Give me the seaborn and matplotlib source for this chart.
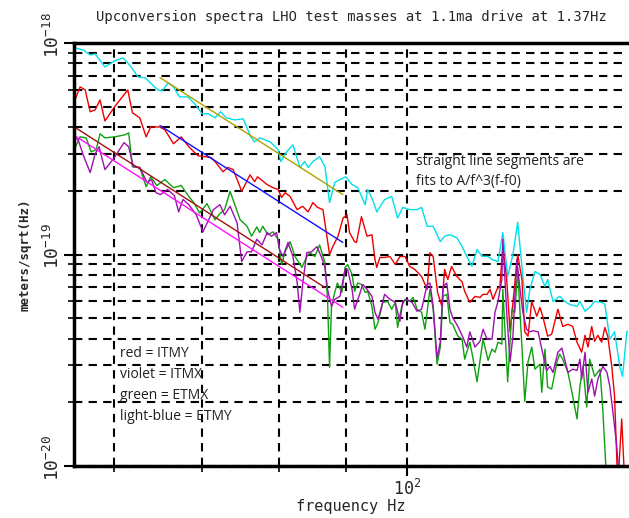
import pandas as pd
import seaborn as sns
import matplotlib
matplotlib.use("Agg")
import matplotlib.pyplot as plt
from matplotlib.ticker import FixedLocator, LogLocator, NullFormatter
from matplotlib.transforms import ScaledTranslation

# amplitude spectra, in units of 1e-19 m/sqrt(Hz)
freq_etmy = [56.1, 56.9, 57.6, 58.1, 59.1, 60.1, 61.0, 61.7, 62.6, 63.4, 64.8, 65.3, 66.0, 66.6, 67.3, 68.3,
             69.1, 70.0, 70.7, 71.6, 72.3, 73.0, 74.1, 75.2, 76.2, 76.7, 77.4, 78.8, 79.9, 80.3, 81.0, 82.0,
             83.0, 83.7, 84.2, 84.9, 85.9, 86.7, 87.4, 88.2, 89.0, 89.9, 90.9, 91.8, 93.0, 93.4, 94.2, 94.9,
             96.2, 97.4, 98.4, 99.3, 100.5, 101.8, 102.6, 103.6, 104.7, 106.0, 106.8, 107.8, 109.1, 110.1,
             111.0, 112.0, 113.0, 114.0, 115.2, 116.0, 117.2, 118.2, 119.2, 120.3, 121.3, 122.4, 123.2, 123.9,
             125.0, 126.1, 127.2, 127.8, 129.0, 130.5, 131.7, 132.8, 134.5, 135.2, 136.4, 137.5, 138.7, 140.4,
             141.2, 142.4, 143.6, 144.9, 145.6, 146.7, 147.2]
amp_etmy = [9.48, 9.27, 8.78, 8.88, 7.70, 8.23, 8.50, 7.87, 6.92, 6.84,
            6.00, 5.94, 6.48, 6.20, 5.56, 5.56, 5.16, 4.63, 4.63, 4.43,
            4.73, 4.43, 4.33, 4.38, 3.60, 3.41, 3.56, 3.41, 3.13, 2.75,
            3.03, 3.30, 2.58, 2.75, 2.58, 2.75, 2.90, 2.60, 1.76, 2.19,
            2.26, 2.33, 2.14, 2.07, 1.72, 2.03, 1.82, 1.59, 1.82, 1.88,
            1.49, 1.67, 1.63, 1.63, 1.67, 1.36, 1.36, 1.15, 1.22, 1.24,
            1.20, 1.09, 0.98, 0.88, 1.056, 0.98, 0.98, 0.947, 0.926, 1.27,
            0.787, 1.00, 1.42, 0.787, 0.533, 0.684, 0.831, 0.805, 0.706, 0.762,
            0.600, 0.634, 0.600, 0.581, 0.568, 0.600, 0.539, 0.562, 0.600, 0.594,
            0.581, 0.398, 0.431, 0.296, 0.265, 0.431, 0.436]

freq_itmy = [56.1, 56.6, 57.1, 57.6, 58.1, 58.6, 59.1, 60.1, 61.5, 62.0,
             62.8, 63.5, 64.0, 65.0, 65.6, 66.6, 67.5, 68.4, 69.5, 70.4,
             71.1, 71.6, 72.6, 73.2, 73.9, 75.0, 76.1, 76.7, 77.1, 78.4,
             79.2, 79.9, 80.4, 80.9, 81.6, 82.6, 83.4, 84.2, 84.9, 85.6,
             86.4, 87.0, 87.4, 87.9, 88.7, 89.5, 90.1, 90.5, 91.3, 91.6,
             92.4, 93.3, 94.1, 94.6, 94.9, 95.4, 96.2, 97.1, 98.0, 98.8,
             99.7, 100.5, 101.4, 102.6, 103.6, 104.1, 104.7, 105.5, 106.3, 106.8,
             107.4, 108.1, 109.1, 110.1, 110.6, 111.6, 112.6, 113.6, 114.2, 115.0,
             115.6, 116.2, 117.0, 117.6, 118.2, 119.0, 119.7, 120.3, 121.3, 122.2,
             122.8, 123.5, 124.3, 125.4, 126.1, 126.7, 127.8, 128.7, 130.1, 131.2,
             132.4, 133.5, 134.5, 135.6, 136.4, 137.1, 138.0, 138.7, 139.5, 140.4,
             141.2, 141.9, 142.9, 143.6, 144.4, 145.4, 146.2, 147.0]
amp_itmy = [5.38, 6.20, 6.00, 4.73, 4.83, 5.38, 4.28, 4.99, 6.00, 4.68,
            4.43, 3.60, 4.01, 4.01, 3.89, 3.34, 3.60, 3.23, 2.93, 2.90,
            2.87, 2.75, 2.46, 2.58, 2.52, 1.99, 2.38, 2.21, 2.33, 2.14,
            2.07, 2.03, 1.86, 1.96, 1.88, 1.63, 1.69, 1.59, 1.76, 1.67,
            1.63, 1.22, 1.00, 1.09, 1.22, 1.49, 1.54, 1.27, 1.15, 1.14,
            1.51, 1.22, 1.24, 0.947, 0.869, 0.968, 0.968, 0.978, 0.897, 0.978,
            0.978, 0.878, 0.850, 0.787, 0.684, 1.02, 0.978, 0.662, 0.568, 0.850,
            0.762, 0.878, 0.787, 0.742, 0.670, 0.594, 0.634, 0.627, 0.648, 0.648,
            0.684, 0.614, 0.684, 0.706, 1.09, 0.762, 0.431, 0.594, 1.00, 0.762,
            0.431, 0.411, 0.600, 0.511, 0.562, 0.511, 0.411, 0.420, 0.551, 0.457,
            0.468, 0.457, 0.385, 0.345, 0.415, 0.365, 0.457, 0.389, 0.415, 0.385,
            0.452, 0.411, 0.296, 0.214, 0.08, 0.167, 0.08, 0.08]

freq_etmx = [56.1, 56.6, 57.2, 57.7, 58.2, 58.6, 59.1, 60.1, 61.2, 61.6,
             62.0, 62.8, 63.5, 64.0, 64.7, 65.6, 66.6, 67.5, 68.4, 69.0,
             69.7, 70.6, 71.6, 72.2, 72.8, 73.5, 74.1, 74.8, 75.7, 76.3,
             77.0, 77.4, 77.8, 78.5, 79.2, 79.9, 80.4, 80.9, 81.6, 82.3,
             83.3, 84.0, 84.5, 85.2, 85.9, 86.7, 87.1, 87.4, 87.7, 88.2,
             88.6, 89.3, 89.8, 90.2, 90.9, 91.3, 91.8, 92.4, 93.0, 93.4,
             94.1, 94.6, 95.1, 95.9, 96.7, 97.4, 98.0, 98.4, 99.1, 99.7,
             100.5, 101.1, 101.8, 102.6, 103.2, 104.1, 104.7, 105.4, 106.0, 106.5,
             107.2, 107.8, 108.3, 109.3, 110.1, 110.6, 111.6, 112.2, 113.0, 113.6,
             114.2, 115.2, 116.0, 116.6, 117.2, 118.0, 118.2, 119.0, 119.2, 120.1,
             120.7, 121.3, 122.2, 122.8, 123.5, 124.3, 125.0, 126.1, 126.5, 127.2,
             127.8, 128.7, 129.9, 130.5, 131.2, 132.4, 133.5, 134.5, 135.2, 135.9,
             136.8, 137.5, 138.7, 140.0, 140.7, 141.7, 143.6, 147.0]
amp_etmx = [3.20, 3.60, 3.56, 3.06, 3.13, 3.72, 3.56, 3.60, 3.68, 3.76,
            2.60, 2.58, 2.09, 2.33, 2.12, 2.26, 2.07, 2.12, 1.88, 1.76,
            1.57, 1.74, 1.46, 1.56, 1.63, 1.99, 1.72, 1.46, 1.36, 1.22,
            1.35, 1.27, 1.36, 1.24, 1.28, 1.18, 0.897, 1.03, 1.15, 0.978,
            0.869, 0.978, 1.02, 0.978, 1.11, 0.916, 0.614, 0.293, 0.568, 0.662,
            0.733, 0.662, 0.869, 0.897, 0.805, 0.670, 0.733, 0.722, 0.662, 0.670,
            0.568, 0.443, 0.476, 0.594, 0.600, 0.551, 0.594, 0.452, 0.568, 0.614,
            0.600, 0.627, 0.551, 0.533, 0.443, 0.684, 0.551, 0.303, 0.365, 0.634,
            0.648, 0.476, 0.468, 0.411, 0.398, 0.320, 0.385, 0.324, 0.250, 0.316,
            0.398, 0.316, 0.357, 0.345, 0.385, 0.377, 0.684, 0.303, 0.250, 0.551,
            0.533, 0.850, 0.365, 0.202, 0.311, 0.365, 0.287, 0.303, 0.223, 0.357,
            0.236, 0.231, 0.311, 0.338, 0.320, 0.277, 0.214, 0.167, 0.239, 0.296,
            0.190, 0.320, 0.265, 0.287, 0.182, 0.08, 0.08, 0.08]

freq_itmx = [56.1, 56.4, 56.9, 57.6, 58.1, 58.5, 59.1, 60.0, 61.1, 61.6,
             62.1, 62.8, 63.6, 64.1, 64.6, 65.1, 65.9, 66.7, 67.2, 67.7,
             68.4, 69.3, 70.1, 70.7, 71.4, 72.2, 72.8, 73.5, 74.4, 75.0,
             75.7, 76.3, 77.0, 77.7, 78.4, 79.0, 79.7, 80.1, 80.6, 81.3,
             82.0, 82.6, 83.0, 83.4, 84.0, 84.7, 85.5, 86.2, 86.7, 87.1,
             87.7, 88.2, 89.0, 89.8, 90.2, 90.9, 91.3, 92.1, 92.6, 93.3,
             94.1, 94.6, 95.1, 95.7, 96.2, 97.1, 98.0, 98.8, 99.3, 100.0,
             100.9, 101.8, 102.6, 103.6, 104.1, 104.7, 105.4, 106.0, 106.5, 107.2,
             107.8, 108.3, 109.3, 110.3, 111.0, 111.6, 112.6, 113.6, 114.2, 115.0,
             116.0, 116.6, 117.2, 118.0, 118.2, 119.0, 119.7, 120.3, 121.1, 121.8,
             122.4, 123.2, 123.9, 124.6, 125.7, 126.5, 127.6, 128.3, 129.0, 130.1,
             131.0, 131.7, 132.4, 133.5, 134.5, 135.2, 135.6, 136.4, 137.1, 138.0,
             138.7, 139.5, 140.7, 141.7, 142.4, 143.1, 144.1, 144.9, 147.0]
amp_itmx = [3.56, 3.49, 2.96, 2.44, 2.99, 3.23, 2.52, 2.84, 3.38, 3.23,
            2.60, 2.58, 2.19, 2.26, 1.96, 1.92, 2.03, 1.90, 1.59, 1.82,
            1.72, 1.54, 1.28, 1.43, 1.63, 1.72, 1.54, 1.69, 1.41, 0.926,
            1.03, 1.03, 1.18, 1.11, 1.27, 1.22, 1.27, 1.056, 0.978, 1.14,
            0.978, 0.742, 0.533, 0.722, 1.02, 1.03, 1.09, 0.968, 0.869, 0.684,
            0.568, 0.614, 0.634, 0.850, 0.850, 0.684, 0.551, 0.648, 0.722, 0.684,
            0.634, 0.533, 0.494, 0.568, 0.648, 0.614, 0.594, 0.483, 0.600, 0.614,
            0.594, 0.539, 0.551, 0.722, 0.733, 0.568, 0.324, 0.385, 0.706, 0.733,
            0.551, 0.504, 0.457, 0.404, 0.365, 0.431, 0.365, 0.389, 0.443, 0.398,
            0.398, 0.533, 0.600, 0.762, 1.18, 0.533, 0.311, 0.411, 0.947, 0.684,
            0.533, 0.443, 0.431, 0.436, 0.431, 0.357, 0.283, 0.296, 0.277, 0.345,
            0.361, 0.316, 0.277, 0.287, 0.283, 0.320, 0.258, 0.345, 0.223, 0.258,
            0.214, 0.258, 0.296, 0.277, 0.239, 0.186, 0.127, 0.08, 0.08]

# straight-line fit segments (end points), same units
fit_names = ['fit ETMY', 'fit ITMY', 'fit ETMX', 'fit ITMX']
fit_freq = [[65.05, 89.45], [65.05, 89.45], [56.1, 86.7], [56.1, 89.45]]
fit_amp = [[6.86, 1.92], [4.07, 1.14], [3.99, 0.698], [3.64, 0.563]]

colors = {'ETMY': '#00e0ea', 'ITMY': '#ee0000', 'ETMX': '#0fa00f', 'ITMX': '#a010b0',
          'fit ETMY': '#b0a000', 'fit ITMY': '#1010ff', 'fit ETMX': '#a01010', 'fit ITMX': '#ff10ff'}

y_ticks = [1e-20, 1e-19, 1e-18]
y_tick_labels = ['$10^{-20}$', '$10^{-19}$', '$10^{-18}$']

legend_lines = ['red = ITMY', 'violet = ITMX', 'green = ETMX', 'light-blue = ETMY']
note_lines = ['straight line segments are', 'fits to A/f^3(f-f0)']

# Step 1: long tables for seaborn
spectra = pd.concat([
    pd.DataFrame({'freq': freq_etmy, 'amp': amp_etmy, 'mass': 'ETMY'}),
    pd.DataFrame({'freq': freq_itmy, 'amp': amp_itmy, 'mass': 'ITMY'}),
    pd.DataFrame({'freq': freq_etmx, 'amp': amp_etmx, 'mass': 'ETMX'}),
    pd.DataFrame({'freq': freq_itmx, 'amp': amp_itmx, 'mass': 'ITMX'}),
], ignore_index=True)
spectra['amp'] = spectra['amp'] * 1e-19

fits = pd.concat([pd.DataFrame({'freq': f, 'amp': a, 'mass': n})
                  for n, f, a in zip(fit_names, fit_freq, fit_amp)], ignore_index=True)
fits['amp'] = fits['amp'] * 1e-19

# Step 2: plotting
sns.set_style("ticks")
plt.rcParams['font.family'] = ['DejaVu Sans Mono']
plt.rcParams['mathtext.default'] = 'regular'

fig = plt.figure(figsize=(6.29, 5.18), dpi=100)
ax = fig.add_axes([74 / 629, 52 / 518, 554 / 629, 423 / 518])
ax.set_xscale('log')
ax.set_yscale('log')

sns.lineplot(data=spectra, x='freq', y='amp', hue='mass', palette=colors,
             hue_order=['ETMY', 'ITMY', 'ETMX', 'ITMX'], estimator=None, sort=False,
             linewidth=1, legend=False, ax=ax)
sns.lineplot(data=fits, x='freq', y='amp', hue='mass', palette=colors,
             hue_order=fit_names, estimator=None, sort=False,
             linewidth=1, legend=False, ax=ax)

ax.set_xlim(56, 147)
ax.set_ylim(1e-20, 1e-18)

ax.xaxis.set_major_locator(FixedLocator([100]))
ax.xaxis.set_minor_locator(LogLocator(base=10, subs=range(2, 10)))
ax.xaxis.set_minor_formatter(NullFormatter())
ax.set_yticks(y_ticks)
ax.set_yticklabels(y_tick_labels, rotation=90, va='center', fontsize=13)
ax.yaxis.set_minor_locator(LogLocator(base=10, subs=range(2, 10)))
ax.yaxis.set_minor_formatter(NullFormatter())

ax.grid(True, which='both', color='black', linestyle=(0, (4, 3)), linewidth=1.5)
ax.set_axisbelow(True)

for side in ['left', 'bottom', 'top']:
    ax.spines[side].set_linewidth(2.5)
    ax.spines[side].set_color('black')
ax.spines['right'].set_visible(False)

ax.tick_params(which='major', length=7, width=1.5, color='black')
ax.tick_params(which='minor', length=4, width=1.2, color='black')
ax.tick_params(axis='x', labelsize=12, pad=2)
ax.tick_params(axis='y', pad=1)

# nudge the rotated y tick labels up a little
for lbl in ax.get_yticklabels():
    lbl.set_transform(lbl.get_transform() + ScaledTranslation(0, 6 / 72, fig.dpi_scale_trans))

ax.set_title('Upconversion spectra LHO test masses at 1.1ma drive at 1.37Hz', fontsize=10, pad=16)
ax.set_xlabel('frequency Hz', fontsize=11, labelpad=0)
ax.set_ylabel('meters/sqrt(Hz)', fontsize=9, fontweight='bold', labelpad=8)

for i, line in enumerate(legend_lines):
    ax.text(0.083, 0.2577 - i * 0.0497, line, transform=ax.transAxes, fontsize=10,
            family='Open Sans', color='#231f20', va='baseline')
for i, line in enumerate(note_lines):
    ax.text(0.617, 0.7116 - i * 0.0473, line, transform=ax.transAxes, fontsize=10,
            family='Open Sans', color='#231f20', va='baseline')

plt.savefig('out.png', dpi=100)
